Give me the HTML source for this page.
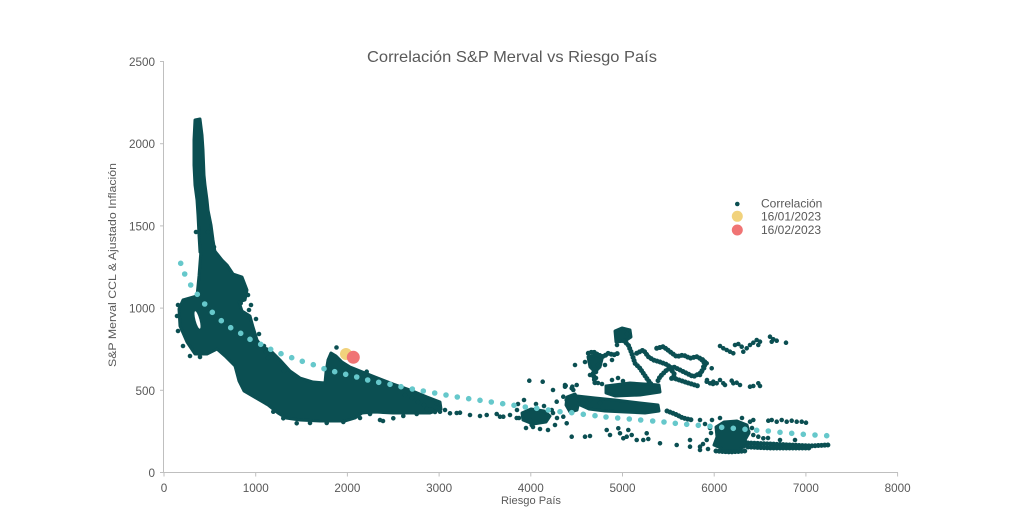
<!DOCTYPE html>
<html>
<head>
<meta charset="utf-8">
<style>
  html,body{margin:0;padding:0;background:#fff;}
  svg{display:block;}
  text{font-family:"Liberation Sans",sans-serif;fill:#595959;}
</style>
</head>
<body>
<svg width="1024" height="531" viewBox="0 0 1024 531" xmlns="http://www.w3.org/2000/svg">
  <rect x="0" y="0" width="1024" height="531" fill="#fff"/>

  <text x="512" y="62" font-size="16" text-anchor="middle" textLength="290" lengthAdjust="spacingAndGlyphs">Correlación S&amp;P Merval vs Riesgo País</text>

  <g stroke="#bfbfbf" stroke-width="1" fill="none">
    <line x1="163.5" y1="61" x2="163.5" y2="472.5"/>
    <line x1="163.5" y1="472.5" x2="898" y2="472.5"/>
    <line x1="160" y1="472.5" x2="164" y2="472.5"/>
    <line x1="160" y1="390.3" x2="164" y2="390.3"/>
    <line x1="160" y1="308.1" x2="164" y2="308.1"/>
    <line x1="160" y1="225.9" x2="164" y2="225.9"/>
    <line x1="160" y1="143.7" x2="164" y2="143.7"/>
    <line x1="160" y1="61.5" x2="164" y2="61.5"/>
    <line x1="164" y1="472.5" x2="164" y2="476.5"/>
    <line x1="255.7" y1="472.5" x2="255.7" y2="476.5"/>
    <line x1="347.4" y1="472.5" x2="347.4" y2="476.5"/>
    <line x1="439.1" y1="472.5" x2="439.1" y2="476.5"/>
    <line x1="530.8" y1="472.5" x2="530.8" y2="476.5"/>
    <line x1="622.5" y1="472.5" x2="622.5" y2="476.5"/>
    <line x1="714.2" y1="472.5" x2="714.2" y2="476.5"/>
    <line x1="805.9" y1="472.5" x2="805.9" y2="476.5"/>
    <line x1="897.6" y1="472.5" x2="897.6" y2="476.5"/>
  </g>

  <g font-size="11.7" text-anchor="end">
    <text x="155" y="477">0</text>
    <text x="155" y="394.8">500</text>
    <text x="155" y="312.6">1000</text>
    <text x="155" y="230.4">1500</text>
    <text x="155" y="148.2">2000</text>
    <text x="155" y="66">2500</text>
  </g>
  <g font-size="11.7" text-anchor="middle">
    <text x="164" y="492">0</text>
    <text x="255.7" y="492">1000</text>
    <text x="347.4" y="492">2000</text>
    <text x="439.1" y="492">3000</text>
    <text x="530.8" y="492">4000</text>
    <text x="622.5" y="492">5000</text>
    <text x="714.2" y="492">6000</text>
    <text x="805.9" y="492">7000</text>
    <text x="897.6" y="492">8000</text>
  </g>

  <text x="531" y="504" font-size="11" text-anchor="middle" textLength="60" lengthAdjust="spacingAndGlyphs">Riesgo País</text>
  <text transform="translate(116,265) rotate(-90)" x="0" y="0" font-size="11" text-anchor="middle" textLength="204" lengthAdjust="spacingAndGlyphs">S&amp;P Merval CCL &amp; Ajustado Inflación</text>

  <g fill="#0b4f52" stroke="#0b4f52" stroke-width="3" stroke-linejoin="round">
    <path d="M195,120 L200,119 L202,135 L203,150 L204,175 L205,185 L207,200 L208,210 L211,225 L213,240 L215,252 L200,252 L199,235 L198,215 L197,200 L195,185 L194,165 L194,140 Z"/>
    <path d="M201,250 L214,250 L222,260 L227,265 L233,274 L242,277 L247,290 L245,300 L239,302 L242,311 L250,316 L253,327 L257,340 L262,347 L270,350 L280,360 L290,371 L300,378 L313,382 L325,383 L326,372 L328,360 L331,353 L336,356 L342,362 L350,367 L360,371 L375,377 L393,384 L410,390 L427,397 L440,402 L441,409 L430,413 L410,413 L393,413 L375,412 L362,413 L355,418 L345,421 L320,421 L300,420 L286,418 L278,413 L268,405 L256,398 L244,391 L239,381 L235,366 L225,356 L217,349 L207,354 L195,354 L187,342 L180,326 L179,309 L183,300 L197,296 L199,276 Z"/>
    <path d="M615,331 L622,328 L630,330 L631,337 L625,341 L616,342 Z"/>
    <path d="M588,357 L597,355 L602,359 L600,367 L595,372 L590,367 Z"/>
    <path d="M606,386 L630,383 L659,385 L660,392 L640,395 L615,396 L606,393 Z"/>
    <path d="M577,396 L595,398 L615,400 L640,403 L658,405 L659,411 L645,413 L625,412 L605,411 L589,409 L578,404 Z"/>
    <path d="M522,413 L531,409 L544,411 L550,416 L546,422 L533,424 L523,420 Z"/>
    <path d="M567,397 L575,394 L579,401 L577,410 L570,412 L566,405 Z"/>
    <path d="M716,427 L724,422 L737,421 L747,425 L749,433 L745,440 L748,445 L739,449 L723,449 L714,445 L717,437 Z"/>
  </g>
  <g fill="#fff">
    <ellipse cx="197.5" cy="320" rx="2" ry="9" transform="rotate(-15 197.5 320)"/>
  </g>

  <g fill="none" stroke="#0b4f52" stroke-width="5" stroke-linecap="round" stroke-linejoin="round" stroke-dasharray="0 3.2">
    <polyline points="588.3,353.3 593.3,351.7 598.3,355 603.3,356.7 608.3,353.3 613.3,355 618.3,353.3"/>
    <polyline points="593.3,373.3 595,383.3"/>
    <polyline points="624,341 628.3,345 631.7,353.3 635,363.3 640,368.3 643.3,373.3 646.7,378.3 651.7,385"/>
    <polyline points="636.7,353.3 643.3,350 648.3,356.7 653.3,360 660,362"/>
    <polyline points="656.7,348.3 663.3,346.7 670,351.7 676.7,356.7 683.3,355 690,358.3 696.7,356.7 703.3,360 705,366.7 700,373.3 693.3,376.7 686.7,373.3 680,370 673.3,366.7 666.7,370 660,376.7 656.7,383.3"/>
    <polyline points="673,378 685,382 698,386"/>
    <polyline points="660,362 668,365 675,375 670,380"/>
    <polyline points="667,411 675,414 683,418 692,420"/>
    <polyline points="748,443 770,444 790,445 810,446 828,445"/>
    <polyline points="748,447 770,448 790,448 810,448"/>
    <polyline points="716,451 730,452 745,451"/>
  </g>

  <path fill="none" stroke="#0b4f52" stroke-width="4.6" stroke-linecap="round" d="
M178,305h0M177,316h0M178,331h0M183,346h0M190,356h0M200,357h0M248,295h0M251,305h0M256,319h0M259,334h0M264,346h0M266,352h0M271,355h0M276,358h0M268,358h0M284,371h0M295,377h0M208,232h0M214,247h0M196,232h0M240.7,303.3h0M249,310h0
M266.7,403.3h0M273.3,411.7h0M283.3,418.3h0M296.7,423.3h0M310,423h0M326.7,423h0M343.3,422h0M360,418h0M370,414h0M380,420h0M393.3,418.3h0M403.3,416h0M416.7,414h0M430,410h0M435,412h0M383,421h0
M336.5,347.5h0M366.7,371.7h0M386.7,383.3h0M405,395h0M412,398h0M418,402h0M424,405h0M427,409h0
M431.7,410h0M436.7,403.3h0M440,411.7h0M445,410h0M450,413.3h0M456.7,413h0M460,412.7h0M470,415h0M480,416h0M486.7,415h0M496.7,414h0M500,416.7h0M503.3,416.7h0M510,415h0M516.7,418h0M530,420h0M531.7,425h0
M529.3,380.7h0M542.7,381.7h0M565.7,385.7h0M572.3,386.7h0M571.7,436.7h0M533,427h0M555,425h0M548,430h0M553,390h0M556.7,401.7h0M551.7,410h0M563.3,396.7h0M565,386.7h0M571.7,388.3h0M575,365h0M576.7,385h0M565,385h0M573.3,390h0M566.7,400h0M563.3,416.7h0M566.7,423.3h0
M518,404h0M524,400h0M536,404h0M544,406h0M557,418h0M540,429h0M526,428h0M519,418h0M553,413h0M517,410h0
M585,436.7h0M590,436h0M606.7,430h0M610,435h0M618.3,428.3h0M620,433.3h0M623.3,438.3h0M628.3,430h0M631.7,435h0M626.7,436.7h0M636.7,440h0M643.3,440h0M646.7,433.3h0M648.3,439h0M660,443.3h0M676.7,445h0M690,446.7h0M690,440h0M700,446.7h0M706.7,440h0
M612,380h0M618,378h0M623,381h0M598,365h0M596,372h0M596,378h0M598,383h0M602,384h0M580,398h0M583,403h0M590,400h0M600,403h0M585,362h0M590,375h0M605,365h0M612,360h0M617,345h0M627,334h0
M701.7,360h0M705,361.7h0M703.3,366.7h0M701.7,371.7h0M711.7,368.3h0M706.7,363.3h0M700,375h0M707,380h0M713,384h0
M706.7,381.7h0M710,383.3h0M713.3,381.7h0M716.7,383.3h0M720,380h0M723.3,383.3h0M725,385h0M731.7,380.7h0M733.3,383.3h0M736.7,382.7h0M740,385h0M750,386.7h0M753.3,386h0M758.3,383.3h0M760,386h0
M720,346h0M723.3,348.3h0M726.7,350h0M730,351.7h0M733.3,353.3h0M735,345h0M738.3,344h0M741.7,346.7h0M743.3,351.7h0M746.7,348.3h0M750,345h0M753.3,342.7h0M756.7,340h0M760,341.7h0M758.3,345h0M770,336.7h0M771.7,341.7h0M773.3,339.3h0M776.7,340.7h0M786,342.7h0
M768.3,420.7h0M771.7,420h0M776.7,421.7h0M781.7,420h0M786.7,421.7h0M791.7,420.7h0M796.7,421.7h0M801.7,421.7h0M806,422.7h0M750,421.7h0M753.3,420h0M748.3,431.7h0M753.3,435h0M758.3,436.7h0M763.3,438.3h0M700,420h0M705,424h0M710,428h0M703,444h0M708,449h0M700,450h0M768,438h0M780,440h0M795,440h0M712,420h0M720,418h0M742,418h0M752,428h0M711,433h0
"/>

  <path fill="none" stroke="#66c8cb" stroke-width="5.6" stroke-linecap="round" d="
M180.7,263.3h0M184.7,274h0M190.7,285h0M197.3,294.3h0M204.7,304h0M212.3,312.3h0M221.3,320.7h0M230.7,327.7h0M240.7,333.3h0M250,339.3h0M260.7,344.3h0M270.7,349.3h0M281,353.7h0M291.7,357.7h0M302.3,361.3h0M313.3,364.7h0M324,368.7h0M334.7,371.7h0M345.7,374.3h0M356.7,377h0M367.7,380h0M378.7,382.3h0M390,384.3h0M401,386.7h0M412.3,389h0M423.3,391h0M434.7,393h0M446,395h0M457.3,397h0M468.7,398.7h0M480,400.3h0M491.3,402h0M502.7,403.7h0M514,405.3h0M525.3,407h0M536.7,408.3h0M548.3,410h0M560,411.7h0M571.7,412.7h0M583.3,414.3h0M595,415.7h0M606,417h0M617.7,418h0M629.3,419h0M640.7,420h0M652.7,421h0M664,422h0M675.3,423.3h0M686.7,424.3h0M698.3,425.3h0M710,426.3h0M721.7,427.3h0M733.3,428.3h0M745,429.3h0M756.7,430.3h0M768.3,431h0M780,432.3h0M791.7,433.3h0M803.3,434.3h0M815,435h0M826.7,435.7h0
"/>

  <circle cx="346" cy="354" r="6" fill="#f1d27c"/>
  <circle cx="353.3" cy="357.3" r="6.5" fill="#f07474"/>

  <circle cx="737.3" cy="204" r="2.3" fill="#0b4f52"/>
  <circle cx="737.3" cy="216.3" r="5.5" fill="#f1d27c"/>
  <circle cx="737.3" cy="230" r="5.5" fill="#f07474"/>
  <g font-size="12">
    <text x="761" y="207.5">Correlación</text>
    <text x="761" y="220.5">16/01/2023</text>
    <text x="761" y="234">16/02/2023</text>
  </g>
</svg>
</body>
</html>
